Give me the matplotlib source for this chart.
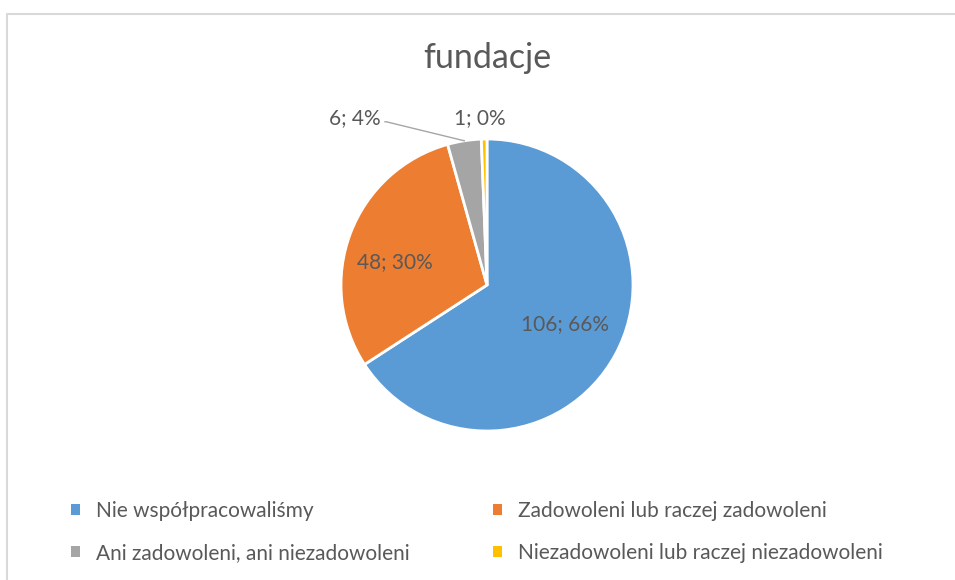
import matplotlib
matplotlib.use("Agg")
import matplotlib.pyplot as plt
import numpy as np

# values
categories = ["Nie współpracowaliśmy", "Zadowoleni lub raczej zadowoleni",
              "Ani zadowoleni, ani niezadowoleni", "Niezadowoleni lub raczej niezadowoleni"]
counts = [106, 48, 6, 1]
percents = ["66%", "30%", "4%", "0%"]
colors = ["#5B9BD5", "#ED7D31", "#A5A5A5", "#FFC000"]

TXT = "#595959"
plt.rcParams["font.family"] = ["Lato", "DejaVu Sans"]

W, H = 955, 580
fig = plt.figure(figsize=(W / 100, H / 100), dpi=100)
ax = fig.add_axes([0, 0, 1, 1])

# chart area border (cropped on the right/bottom in the reference)
ax.plot([6.5, 6.5, W], [0, H - 13.5, H - 13.5], color="#D9D9D9", lw=1.5)

cx, cy, r = 487, H - 285, 146
wedges, _ = ax.pie(counts, colors=colors, startangle=90, counterclock=False,
                   center=(cx, cy), radius=r, frame=True,
                   wedgeprops=dict(edgecolor="white", linewidth=2))
ax.set_xlim(0, W)
ax.set_ylim(0, H)
ax.set_aspect("equal")
ax.axis("off")

labels = [f"{c}; {p}" for c, p in zip(counts, percents)]
# inside labels: (distance as share of radius, angle nudge in degrees)
inside = {0: (0.60, 2), 1: (0.65, 7)}
for i, (d, nudge) in inside.items():
    w = wedges[i]
    mid = np.deg2rad((w.theta1 + w.theta2) / 2 + nudge)
    ax.text(cx + d * r * np.cos(mid), cy + d * r * np.sin(mid), labels[i],
            ha="center", va="center", fontsize=15, color=TXT)
ang_g = np.deg2rad((wedges[2].theta1 + wedges[2].theta2) / 2)
ex, ey = cx + r * np.cos(ang_g), cy + r * np.sin(ang_g)
ax.plot([ex, ex - 78, 385], [ey, ey + 19, ey + 19], color="#A6A6A6", lw=1)
ax.text(381, ey + 23, labels[2], ha="right", va="center", fontsize=15, color=TXT)
ax.text(480, ey + 23, labels[3], ha="center", va="center", fontsize=15, color=TXT)

ax.text(cx, H - 58, "fundacje", ha="center", va="center", fontsize=24.5, color=TXT)

order = [0, 2, 1, 3]
leg = ax.legend([wedges[i] for i in order], [categories[i] for i in order],
                ncol=2, frameon=False, loc="upper left",
                bbox_to_anchor=(52 / W, 1 - 482 / H), fontsize=15,
                handlelength=0.45, handleheight=0.45, handletextpad=0.75,
                columnspacing=4.0, labelspacing=1.05, labelcolor=TXT)
for h in leg.legend_handles:
    h.set_edgecolor("none")

fig.savefig("out.png", dpi=100)
